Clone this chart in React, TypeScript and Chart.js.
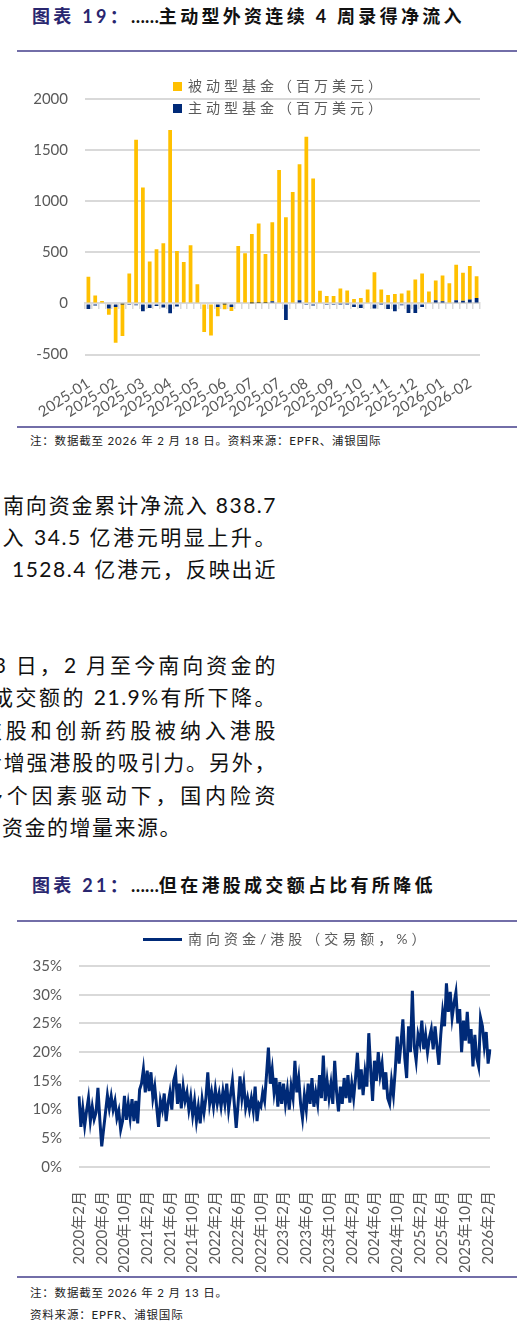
import React, { useEffect, useRef } from 'react';
import { Chart, registerables } from 'chart.js';

Chart.register(...registerables);

const FONT = 'Lato, "Noto Sans CJK SC", sans-serif';
const GRAY = '#595959';
const GRID = '#D9D9D9';
const YELLOW = '#FFC000';
const NAVY = '#002A78';
const RULE = '#726EA8';

// 图表19: weekly EPFR flows, US$ mn
const flowWeeks = [
  '2025-01-15', '2025-01-22', '2025-01-29', '2025-02-05', '2025-02-12', '2025-02-19', '2025-02-26',
  '2025-03-05', '2025-03-12', '2025-03-19', '2025-03-26', '2025-04-02', '2025-04-09', '2025-04-16',
  '2025-04-23', '2025-04-30', '2025-05-07', '2025-05-14', '2025-05-21', '2025-05-28', '2025-06-04',
  '2025-06-11', '2025-06-18', '2025-06-25', '2025-07-02', '2025-07-09', '2025-07-16', '2025-07-23',
  '2025-07-30', '2025-08-06', '2025-08-13', '2025-08-20', '2025-08-27', '2025-09-03', '2025-09-10',
  '2025-09-17', '2025-09-24', '2025-10-01', '2025-10-08', '2025-10-15', '2025-10-22', '2025-10-29',
  '2025-11-05', '2025-11-12', '2025-11-19', '2025-11-26', '2025-12-03', '2025-12-10', '2025-12-17',
  '2025-12-24', '2025-12-31', '2026-01-07', '2026-01-14', '2026-01-21', '2026-01-28', '2026-02-04',
  '2026-02-11', '2026-02-18',
];
const passiveFlows = [
  260, 78, 23, -60, -350, -315, 292, 1602, 1134, 410, 530, 588, 1697, 513,
  406, 569, 188, -280, -315, -90, -55, -40, 562, 490, 676, 778, 479, 773,
  1298, 842, 1089, 1330, 1631, 1222, 123, 72, 72, 146, 127, 42, 52, 137,
  305, 137, 81, 91, 97, 127, 234, 292, 117, 194, 250, 198, 345, 273,
  328, 214,
];
const activeFlows = [
  -55, -20, -10, -50, -35, -3, -5, -18, -78, -45, -25, -40, -97, -30,
  0, 0, 0, 0, 0, -35, -3, -35, 0, 0, 2, 5, 5, 20,
  8, -162, 0, 32, -5, -20, 0, -5, -15, -3, -3, -35, -45, 0,
  -50, -3, -55, -78, -18, -95, -95, -35, 0, 30, 22, 0, 32, 26,
  39, 52,
];
const flowTicks = [-500, 0, 500, 1000, 1500, 2000];

// 图表21: southbound share of HK turnover, %, three readings per month
const share2020 = [
  12.3, 7.0, 10.2, 7.2, 9.8, 12.0, 8.0, 10.5, 8.3, 9.5, 13.8, 8.2,
  3.6, 6.6, 9.5, 12.5, 10.2, 12.3, 10.0, 11.5, 8.5, 9.8, 6.5, 8.0,
  12.4, 8.2, 11.0, 8.5, 11.8, 8.0, 11.5, 7.6, 13.5,
];
const share2021 = [
  14.5, 17.0, 13.0, 16.8, 13.2, 16.5, 12.0, 14.0, 10.5, 7.0, 11.5, 10.0,
  12.8, 8.0, 11.0, 13.0, 10.0, 15.0, 16.3, 11.0, 14.5, 10.2, 14.0, 11.5,
  13.0, 10.0, 12.2, 9.0, 11.5, 8.0, 10.5, 7.6, 11.8, 9.5, 12.0, 16.5,
];
const share2022 = [
  11.0, 13.0, 10.5, 13.5, 11.0, 12.8, 10.5, 13.2, 11.0, 14.5, 10.0, 12.5,
  15.0, 11.0, 6.8, 11.0, 15.8, 12.0, 14.5, 10.3, 12.0, 10.0, 12.0, 9.8,
  14.0, 8.0, 11.0, 10.5, 13.0, 11.5, 16.0, 20.8, 14.5, 17.0, 13.0, 15.5,
];
const share2023 = [
  10.5, 14.8, 11.0, 14.5, 11.0, 13.5, 10.0, 14.0, 12.0, 18.5, 13.0, 15.5,
  11.0, 8.5, 12.5, 10.0, 14.5, 11.0, 15.5, 10.5, 13.0, 11.0, 16.0, 12.0,
  19.4, 11.5, 15.0, 12.0, 14.5, 11.0, 18.5, 13.0, 9.7, 14.0, 11.0, 15.5,
];
const share2024 = [
  12.0, 16.0, 11.2, 14.5, 12.0, 15.5, 19.9, 13.5, 17.0, 12.5, 16.5, 14.0,
  23.3, 17.0, 11.5, 18.5, 15.0, 20.0, 16.0, 18.0, 13.5, 16.5, 12.0, 11.0,
  15.0, 12.5, 17.0, 22.7, 18.0, 21.5, 25.7, 19.0, 15.5, 24.5, 20.0, 30.7,
];
const share2025 = [
  21.0, 18.5, 23.0, 21.5, 25.5, 20.5, 23.0, 20.0, 22.5, 24.0, 20.5, 24.5,
  21.0, 17.8, 23.0, 27.0, 24.5, 32.0, 27.0, 30.5, 26.0, 28.5, 30.4, 25.0,
  27.5, 20.0, 25.5, 22.0, 27.0, 21.5, 24.0, 17.5, 23.0, 19.0, 17.5, 26.0,
];
const share2026 = [24.5, 21.0, 23.5, 18.0, 20.5];
const shareValues = [...share2020, ...share2021, ...share2022, ...share2023, ...share2024, ...share2025, ...share2026];

const readingDays = ['01', '11', '21'];
const shareDates: string[] = [];
for (let y = 2020; y <= 2026; y++) {
  for (let m = 1; m <= 12; m++) {
    if (y === 2020 && m < 2) continue;
    for (const d of readingDays) {
      if (shareDates.length < shareValues.length) {
        shareDates.push(`${y}-${String(m).padStart(2, '0')}-${d}`);
      }
    }
  }
}
const shareTicks = [0, 5, 10, 15, 20, 25, 30, 35];

const bodyLines = [
  { text: '南向资金累计净流入 838.7', left: 3, y: 505, justify: true },
  { text: '流入 34.5 亿港元明显上升。', left: -21, y: 537, justify: true },
  { text: '1528.4 亿港元，反映出近', left: 12, y: 569, justify: true },
  { text: '13 日，2 月至今南向资金的', left: -20, y: 665, justify: true },
  { text: '成交额的 21.9%有所下降。', left: -8, y: 697, justify: true },
  { text: '技股和创新药股被纳入港股', left: -19, y: 730, justify: true },
  { text: '步增强港股的吸引力。另外，', left: -19, y: 762, justify: true },
  { text: '多个因素驱动下，国内险资', left: -18, y: 795, justify: true },
  { text: '资金的增量来源。', left: 2, y: 827, justify: false },
];

const tickFont = { family: FONT, size: 15 };

function FlowChart() {
  const canvasRef = useRef<HTMLCanvasElement | null>(null);

  useEffect(() => {
    if (!canvasRef.current) return;
    const chart = new Chart(canvasRef.current, {
      type: 'bar',
      data: {
        labels: flowWeeks,
        datasets: [
          { label: '主动型基金（百万美元）', data: activeFlows, backgroundColor: NAVY },
          { label: '被动型基金（百万美元）', data: passiveFlows, backgroundColor: YELLOW },
        ],
      },
      options: {
        animation: false,
        responsive: false,
        layout: { padding: { left: 33, right: 45, top: 39, bottom: 0 } },
        datasets: { bar: { categoryPercentage: 0.55, barPercentage: 1 } },
        plugins: { legend: { display: false }, tooltip: { enabled: false } },
        scales: {
          x: {
            stacked: true,
            position: { y: 0 },
            offset: true,
            grid: { offset: true, drawOnChartArea: false, drawTicks: true, tickLength: 5, color: GRID, lineWidth: 1.5 },
            border: { color: GRID, width: 2 },
            ticks: { display: false, autoSkip: false },
          },
          x2: {
            type: 'category',
            labels: flowWeeks,
            position: 'bottom',
            offset: true,
            grid: { display: false },
            border: { display: false },
            ticks: {
              autoSkip: false,
              minRotation: 33,
              maxRotation: 33,
              padding: 12,
              color: GRAY,
              font: tickFont,
              callback: (_v: any, i: number) => (i % 4 === 0 ? flowWeeks[i].slice(0, 7) : ''),
            },
            afterFit: (scale: any) => {
              scale.height = 65.5;
            },
          },
          y: {
            stacked: true,
            min: -500,
            max: 2000,
            afterBuildTicks: (scale: any) => {
              scale.ticks = flowTicks.map((v) => ({ value: v }));
            },
            ticks: { color: GRAY, font: tickFont, padding: 17, callback: (v: any) => String(v) },
            grid: { color: GRID, lineWidth: 2, drawTicks: false },
            border: { display: false },
            afterFit: (scale: any) => {
              scale.width = 52;
            },
          },
        },
      },
    });
    return () => chart.destroy();
  }, []);

  return (
    <canvas
      ref={canvasRef}
      width={525}
      height={360}
      style={{ position: 'absolute', left: 0, top: 60, width: 525, height: 360 }}
    />
  );
}

function ShareChart() {
  const canvasRef = useRef<HTMLCanvasElement | null>(null);

  useEffect(() => {
    if (!canvasRef.current) return;
    const chart = new Chart(canvasRef.current, {
      type: 'line',
      data: {
        labels: shareDates,
        datasets: [
          {
            label: '南向资金/港股（交易额，%）',
            data: shareValues,
            borderColor: NAVY,
            borderWidth: 3,
            pointRadius: 0,
            tension: 0,
          },
        ],
      },
      options: {
        animation: false,
        responsive: false,
        layout: { padding: { left: 27, right: 35, top: 12, bottom: 0 } },
        plugins: { legend: { display: false }, tooltip: { enabled: false } },
        scales: {
          x: {
            offset: false,
            grid: { display: false },
            border: { display: false },
            ticks: {
              autoSkip: false,
              minRotation: 90,
              maxRotation: 90,
              padding: 16,
              color: GRAY,
              font: tickFont,
              callback: (_v: any, i: number) => {
                const [y, m, d] = shareDates[i].split('-');
                const month = Number(m);
                return d === '01' && (month - 2) % 4 === 0 ? `${y}年${month}月` : '';
              },
            },
            afterFit: (scale: any) => {
              scale.height = 105;
            },
          },
          y: {
            min: 0,
            max: 35,
            afterBuildTicks: (scale: any) => {
              scale.ticks = shareTicks.map((v) => ({ value: v }));
            },
            ticks: { color: GRAY, font: tickFont, padding: 17, callback: (v: any) => `${v}%` },
            grid: { color: GRID, lineWidth: 2, drawTicks: false },
            border: { display: false },
            afterFit: (scale: any) => {
              scale.width = 52;
            },
          },
        },
      },
    });
    return () => chart.destroy();
  }, []);

  return (
    <canvas
      ref={canvasRef}
      width={525}
      height={332}
      style={{ position: 'absolute', left: 0, top: 940, width: 525, height: 332 }}
    />
  );
}

const abs = (left: number, y: number, h: number): React.CSSProperties => ({
  position: 'absolute',
  left,
  top: y - h / 2,
  height: h,
  lineHeight: `${h}px`,
  whiteSpace: 'nowrap',
});

function Title({ num, text, y }: { num: string; text: string; y: number }) {
  return (
    <div style={{ ...abs(32, y, 26), fontSize: 18, fontWeight: 700, letterSpacing: 3.3, color: '#111' }}>
      <span style={{ color: '#29266F' }}>图表 {num}：</span>
      <span style={{ fontFamily: 'Lato, sans-serif', letterSpacing: 0 }}>……</span>
      {text}
    </div>
  );
}

function Rule({ y }: { y: number }) {
  return <div style={{ position: 'absolute', left: 17, top: y - 0.75, width: 500, height: 1.5, background: RULE }} />;
}

function Note({ text, y }: { text: string; y: number }) {
  return <div style={{ ...abs(30, y, 16), fontSize: 11.5, letterSpacing: 0.8, color: '#222' }}>{text}</div>;
}

const legendText: React.CSSProperties = { fontSize: 14, letterSpacing: 4, color: GRAY };

export default function App() {
  return (
    <div
      style={{
        position: 'relative',
        width: 525,
        height: 1327,
        overflow: 'hidden',
        background: '#fff',
        fontFamily: FONT,
      }}
    >
      <style>{'body{margin:0;}'}</style>

      <Title num="19" text="主动型外资连续 4 周录得净流入" y={16} />
      <Rule y={51} />
      <FlowChart />
      <div style={{ position: 'absolute', left: 173, top: 81.5, width: 9, height: 9, background: YELLOW }} />
      <div style={{ ...abs(188, 86, 20), ...legendText }}>被动型基金（百万美元）</div>
      <div style={{ position: 'absolute', left: 173, top: 103.5, width: 9, height: 9, background: NAVY }} />
      <div style={{ ...abs(188, 108, 20), ...legendText }}>主动型基金（百万美元）</div>
      <Rule y={427} />
      <Note text="注：数据截至 2026 年 2 月 18 日。资料来源：EPFR、浦银国际" y={441} />

      {bodyLines.map((line) => (
        <div
          key={line.text}
          style={{
            position: 'absolute',
            left: line.left,
            top: line.y - 16,
            width: 277 - line.left,
            height: 32,
            lineHeight: '32px',
            fontSize: 21,
            letterSpacing: 1.5,
            wordSpacing: 0,
            color: '#111',
            textIndent: 0,
            textAlign: line.justify ? 'justify' : 'left',
            textAlignLast: line.justify ? 'justify' : 'left',
            whiteSpace: 'normal',
          }}
        >
          {line.text}
        </div>
      ))}

      <Title num="21" text="但在港股成交额占比有所降低" y={885} />
      <Rule y={921} />
      <ShareChart />
      <div style={{ position: 'absolute', left: 143, top: 937.5, width: 39, height: 3, background: NAVY }} />
      <div style={{ ...abs(188, 939, 20), ...legendText }}>南向资金/港股（交易额，%）</div>
      <Rule y={1277} />
      <Note text="注：数据截至 2026 年 2 月 13 日。" y={1293} />
      <Note text="资料来源：EPFR、浦银国际" y={1315} />
    </div>
  );
}
